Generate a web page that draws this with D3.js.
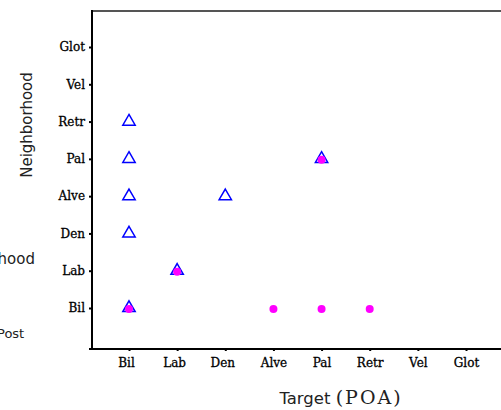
<!DOCTYPE html>
<html>
<head>
<meta charset="utf-8">
<script src="https://cdn.jsdelivr.net/npm/d3@7"></script>
<style>
  body { margin: 0; background: #fff; }
  svg { display: block; }
  .tick text { font-family: "DejaVu Serif", serif; font-size: 12px; fill: #000; stroke: #000; stroke-width: 0.3px; }
  .title { font-family: "DejaVu Sans", sans-serif; font-size: 15px; fill: #222; }
</style>
</head>
<body>
<div id="chart"></div>
<script>
// places of articulation, used on both axes
var categories = ["Bil", "Lab", "Den", "Alve", "Pal", "Retr", "Vel", "Glot"];

// blue open triangles: target / neighborhood pairs
var triTarget = ["Bil", "Bil", "Bil", "Bil", "Bil", "Lab", "Den", "Pal"];
var triNeighbor = ["Retr", "Pal", "Alve", "Den", "Bil", "Lab", "Alve", "Pal"];

// magenta dots: target / neighborhood pairs
var dotTarget = ["Bil", "Lab", "Pal", "Alve", "Pal", "Retr"];
var dotNeighbor = ["Bil", "Lab", "Pal", "Bil", "Bil", "Bil"];

var W = 501, H = 410;
var svg = d3.select("#chart").append("svg")
  .attr("width", W)
  .attr("height", H);

var x = d3.scalePoint().domain(categories).range([129, 466]);
var y = d3.scalePoint().domain(categories).range([308, 47]);

// frame: top line (grey), left + bottom axis lines
svg.append("line")
  .attr("x1", 92).attr("x2", W).attr("y1", 11).attr("y2", 11)
  .attr("stroke", "#555").attr("stroke-width", 2);

var yAxis = svg.append("g")
  .attr("transform", "translate(92,0)")
  .call(d3.axisLeft(y).tickSize(3).tickPadding(4));
yAxis.select(".domain").remove();
yAxis.selectAll(".tick line").attr("stroke", "#000").attr("stroke-width", 2);

var xAxis = svg.append("g")
  .attr("transform", "translate(0,349)")
  .call(d3.axisBottom(x).tickSize(2).tickPadding(7));
xAxis.select(".domain").remove();
xAxis.selectAll(".tick line").attr("stroke", "#000").attr("stroke-width", 2);
xAxis.selectAll(".tick text").attr("dx", function(d, i) { return i < 3 ? -3 : 0; });

svg.append("line")
  .attr("x1", 92).attr("x2", 92).attr("y1", 10).attr("y2", 350)
  .attr("stroke", "#000").attr("stroke-width", 2);
svg.append("line")
  .attr("x1", 89).attr("x2", W).attr("y1", 349).attr("y2", 349)
  .attr("stroke", "#000").attr("stroke-width", 2);

// triangles
var tri = d3.symbol().type(d3.symbolTriangle).size(66);
svg.append("g").selectAll("path")
  .data(triTarget.map(function(t, i) { return [t, triNeighbor[i]]; }))
  .enter().append("path")
  .attr("d", tri)
  .attr("transform", function(d) { return "translate(" + x(d[0]) + "," + y(d[1]) + ")"; })
  .attr("fill", "none")
  .attr("stroke", "#0000ff")
  .attr("stroke-width", 1.5);

// dots
svg.append("g").selectAll("circle")
  .data(dotTarget.map(function(t, i) { return [t, dotNeighbor[i]]; }))
  .enter().append("circle")
  .attr("cx", function(d) { return x(d[0]); })
  .attr("cy", function(d) { return y(d[1]) + 1; })
  .attr("r", 4)
  .attr("fill", "#ff00ff");

// axis titles
svg.append("text").attr("class", "title")
  .attr("transform", "translate(32,125) rotate(-90)")
  .attr("text-anchor", "middle")
  .text("Neighborhood");

svg.append("text").attr("class", "title")
  .attr("x", 35).attr("y", 264)
  .attr("text-anchor", "end")
  .text("Neighborhood");

svg.append("text").attr("class", "title")
  .attr("x", -3).attr("y", 338)
  .style("font-size", "13px")
  .text("Post");

var xt = svg.append("text").attr("class", "title")
  .attr("x", 341).attr("y", 404)
  .attr("text-anchor", "middle");
xt.append("tspan").style("font-size", "16.5px").text("Target  ");
xt.append("tspan")
  .style("font-family", "DejaVu Serif, serif")
  .style("font-size", "19px")
  .style("letter-spacing", "2px")
  .text("(POA)");
</script>
</body>
</html>
